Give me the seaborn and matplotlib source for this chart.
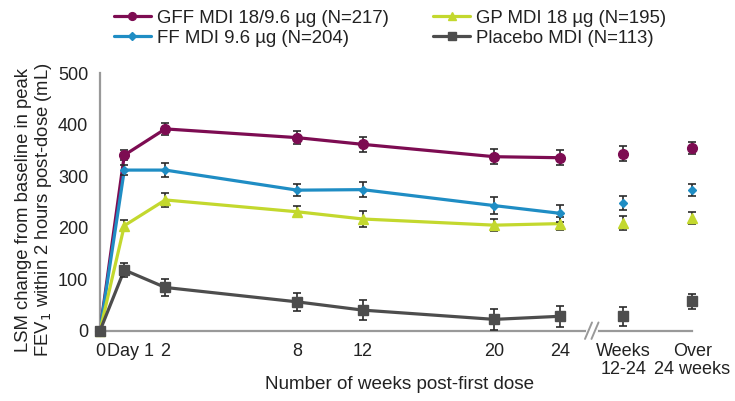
import numpy as np
import pandas as pd
import matplotlib
matplotlib.use("Agg")
import matplotlib.pyplot as plt
import matplotlib.transforms as mtransforms
import seaborn as sns

# ---------------- data ----------------
tick_labels = ["0", "Day 1", "2", "8", "12", "20", "24", "Weeks\n12-24", "Over\n24 weeks"]
series_names = ["GFF MDI 18/9.6 µg (N=217)", "FF MDI 9.6 µg (N=204)",
                "GP MDI 18 µg (N=195)", "Placebo MDI (N=113)"]

gff_vals = [0, 341, 392, 375, 362, 338, 336, 344, 355]
gff_err = [0, 10, 12, 13, 14, 14, 15, 15, 12]
ff_vals = [0, 312, 312, 273, 274, 243, 228, 248, 273]
ff_err = [0, 10, 13, 12, 15, 16, 16, 14, 11]
gp_vals = [0, 204, 254, 231, 217, 205, 208, 209, 219]
gp_err = [0, 11, 13, 11, 15, 12, 12, 13, 11]
pl_vals = [0, 118, 84, 56, 40, 22, 28, 28, 57]
pl_err = [0, 14, 17, 18, 20, 20, 20, 19, 15]

y_ticks = [0, 100, 200, 300, 400, 500]

# ---------------- layout / style ----------------
# horizontal positions of categories on the (broken, non-linear) x-axis
x_pos = [0, 24.3, 65.3, 197.3, 262.7, 394.3, 460, 523.3, 592.3]
break_pos = 492
n_connected = 7  # weeks 0..24 are joined by lines

colors = ["#7D0C52", "#1F8DC4", "#C3D82E", "#4D4D4D"]
markers = ["o", "D", "^", "s"]
msizes = [7, 4.5, 7, 6.5]

sns.set_theme(style="white")
plt.rcParams["font.family"] = ["Liberation Sans", "DejaVu Sans"]

fig = plt.figure(figsize=(7.35, 4.01), dpi=100)
ax = fig.add_axes([100 / 735, 1 - 330.7 / 401, (692.3 - 100) / 735, (330.7 - 73.3) / 401])

all_vals = [gff_vals, ff_vals, gp_vals, pl_vals]
all_errs = [gff_err, ff_err, gp_err, pl_err]

handles = []
for name, vals, errs, c, m, ms in zip(series_names, all_vals, all_errs, colors, markers, msizes):
    df_line = pd.DataFrame({"x": x_pos[:n_connected], "y": vals[:n_connected]})
    sns.lineplot(data=df_line, x="x", y="y", color=c, lw=2.3, ax=ax, zorder=3,
                 legend=False)
    ax.errorbar(x_pos[1:], vals[1:], yerr=errs[1:], fmt="none", ecolor="#2b2b2b",
                elinewidth=1.2, capsize=3.2, capthick=1.2, zorder=4, clip_on=False)
    ax.plot(x_pos, vals, linestyle="none", marker=m, markersize=ms,
            color=c, markeredgecolor=c, zorder=5, clip_on=False)
    h, = ax.plot([], [], color=c, lw=2.3, marker=m, markersize=ms * 0.8, label=name)
    handles.append(h)

ax.set_xlim(0, x_pos[-1])
ax.set_ylim(0, 500)
ax.set_yticks(y_ticks)
ax.set_xticks(x_pos)
ax.set_xticklabels(tick_labels, va="top", linespacing=1.15)
ax.tick_params(axis="both", which="both", direction="out", length=6, width=1.5,
               color="#999999", labelsize=13, labelcolor="#222222", pad=2.5)
# nudge "Day 1" label right as in the original
lbl = ax.get_xticklabels()[1]
lbl.set_transform(lbl.get_transform() + mtransforms.ScaledTranslation(0.06, 0, fig.dpi_scale_trans))

for s in ["top", "right"]:
    ax.spines[s].set_visible(False)
for s in ["left", "bottom"]:
    ax.spines[s].set_color("#999999")
    ax.spines[s].set_linewidth(1.6)

# axis break marks
trans = ax.get_xaxis_transform()
ax.plot([break_pos - 4, break_pos + 4], [0, 0], color="white", lw=3,
        transform=trans, clip_on=False, zorder=6)
for dx in (-3.5, 3.0):
    ax.plot([break_pos + dx - 3.5, break_pos + dx + 3.5], [-0.032, 0.032],
            color="#999999", lw=1.4, transform=trans, clip_on=False, zorder=7)

ax.set_xlabel("Number of weeks post-first dose", fontsize=13.6, color="#222222")
ax.xaxis.set_label_coords(0.505, -0.175)
ax.set_ylabel("LSM change from baseline in peak\nFEV$_1$ within 2 hours post-dose (mL)",
              fontsize=13.3, color="#222222", linespacing=1.05)
ax.yaxis.set_label_coords(-0.078, 0.47)

fig.legend(handles=handles, loc="upper left", bbox_to_anchor=(97 / 735, 1.018), ncol=2,
           frameon=False, fontsize=13.4, handlelength=2.0, handletextpad=0.3,
           columnspacing=2.4, labelspacing=0.18, labelcolor="#222222")

fig.savefig("out.png", dpi=100)
